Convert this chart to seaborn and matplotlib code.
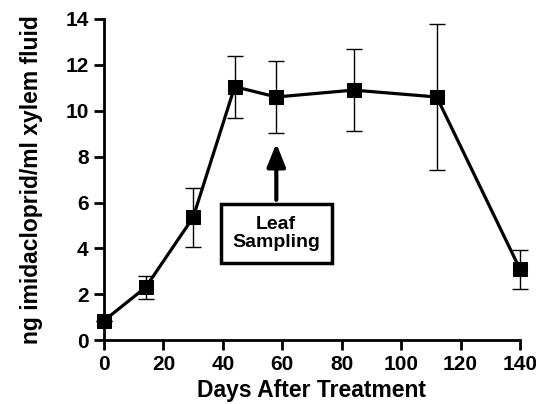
import pandas as pd
import matplotlib
matplotlib.use("Agg")
import matplotlib.pyplot as plt
import seaborn as sns

# Datos
dias = [0, 14, 30, 44, 58, 84, 112, 140]
concentracion = [0.85, 2.3, 5.35, 11.05, 10.6, 10.9, 10.6, 3.1]
error = [0.0, 0.5, 1.3, 1.35, 1.55, 1.8, 3.2, 0.85]

sns.set_style("ticks")
plt.rcParams['font.family'] = ['Liberation Sans', 'DejaVu Sans']
plt.rcParams['font.weight'] = 'bold'
plt.rcParams['text.color'] = 'black'
plt.rcParams['axes.labelcolor'] = 'black'
plt.rcParams['xtick.color'] = 'black'
plt.rcParams['ytick.color'] = 'black'

df = pd.DataFrame({"dias": dias, "conc": concentracion, "err": error})

fig = plt.figure(figsize=(5.36, 4.04), dpi=100)
ax = fig.add_axes([0.194, 0.158, 0.776, 0.795])

ax.errorbar(df["dias"], df["conc"], yerr=df["err"], fmt="none",
            ecolor="black", elinewidth=1, capsize=6, capthick=1, zorder=2,
            clip_on=False)
sns.lineplot(data=df, x="dias", y="conc", color="black", linewidth=2.3,
             marker="s", markersize=10, markeredgecolor="black", ax=ax,
             zorder=3, clip_on=False)

# Anotación de muestreo de hojas
ax.annotate("Leaf\nSampling", xy=(58, 8.7), xytext=(58, 4.65),
            ha="center", va="center", fontsize=14, fontweight="bold",
            linespacing=1.15,
            bbox=dict(boxstyle="square,pad=0.6", fc="white", ec="black", lw=2.5),
            arrowprops=dict(arrowstyle="-|>,head_width=0.4,head_length=1.0",
                            color="black", lw=3))

ax.set_xlim(0, 140)
ax.set_ylim(0, 14)
ax.set_xticks(range(0, 141, 20))
ax.set_yticks(range(0, 15, 2))
ax.set_xlabel("Days After Treatment", fontsize=16.5, fontweight="bold", labelpad=3)
ax.set_ylabel("ng imidacloprid/ml xylem fluid", fontsize=16.5, fontweight="bold", labelpad=16)
ax.tick_params(labelsize=15, width=2, length=7, pad=4)
for lbl in ax.get_xticklabels() + ax.get_yticklabels():
    lbl.set_fontweight("bold")
sns.despine(ax=ax)
for s in ["left", "bottom"]:
    ax.spines[s].set_linewidth(2)
    ax.spines[s].set_color("black")

fig.savefig("out.png", dpi=100)
